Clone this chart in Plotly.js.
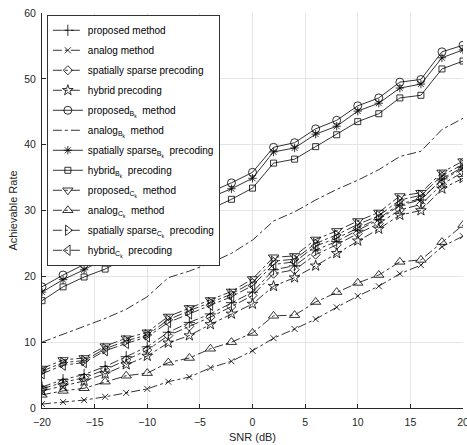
<!DOCTYPE html>
<html>
<head>
<meta charset="utf-8">
<script src="https://cdn.plot.ly/plotly-3.0.1.min.js"></script>
<style>html,body{margin:0;padding:0;background:#fff;}#chart{width:467px;height:445px;}</style>
</head>
<body>
<div id="chart"></div>
<script>
const snr = [-20,-18,-16,-14,-12,-10,-8,-6,-4,-2,0,2,4,6,8,10,12,14,16,18,20];

const proposed      = [3.2,4.3,5.1,6.3,7.8,9.3,11.5,13.0,14.3,16.0,17.6,21.0,21.6,24.0,25.3,27.0,28.6,30.8,31.6,34.8,36.6];
const analog        = [0.6,0.9,1.2,1.7,2.3,2.9,4.0,4.7,6.1,7.1,8.7,10.6,12.0,13.5,15.3,17.0,18.5,20.4,21.7,24.5,26.1];
const sparse        = [2.9,3.9,4.6,5.8,7.3,8.8,11.0,12.4,13.8,15.4,17.1,20.4,21.0,23.3,24.8,26.5,28.0,30.1,30.9,34.0,35.8];
const hybrid        = [2.6,3.4,4.1,5.2,6.6,7.9,9.9,11.0,12.7,14.3,15.8,18.5,19.8,21.6,23.5,25.4,27.2,29.3,30.0,33.3,34.9];
const proposedB     = [18.4,20.2,21.8,23.5,25.3,27.0,28.8,30.5,32.8,34.2,35.8,39.6,40.3,42.4,43.7,45.9,47.1,49.5,49.9,54.1,55.1];
const analogB       = [10.0,11.2,12.3,13.6,15.0,16.9,19.8,20.8,22.0,23.5,25.5,28.4,29.8,31.6,33.2,34.6,36.2,38.2,39.0,42.3,44.0];
const sparseB       = [17.6,19.5,21.0,22.7,24.5,26.2,28.0,29.7,32.0,33.3,34.9,38.9,39.5,41.6,42.8,45.1,46.3,48.6,49.2,53.2,54.4];
const hybridB       = [16.3,18.4,19.9,21.1,22.8,24.5,26.3,28.0,30.2,31.7,33.4,37.2,37.8,39.7,41.5,43.5,44.7,47.1,47.5,51.5,52.7];
const proposedC     = [6.0,7.3,7.6,9.4,10.6,11.5,13.9,15.2,16.4,17.7,19.6,22.9,23.1,25.6,26.9,28.4,29.7,32.2,32.7,35.8,37.5];
const analogC       = [2.0,2.6,3.0,4.0,4.9,5.3,6.9,7.6,9.0,10.0,11.4,14.0,14.1,16.1,17.6,19.0,20.2,22.2,22.5,25.2,27.8];
const sparseC       = [5.6,6.9,7.2,9.0,10.2,11.1,13.4,14.8,16.0,17.3,19.1,22.3,22.6,25.0,26.3,27.9,29.2,31.6,32.3,35.3,37.0];
const hybridC       = [5.2,6.5,6.9,8.7,9.8,10.8,13.0,14.3,15.6,16.9,18.6,21.8,22.2,24.6,25.8,27.3,28.8,31.0,31.8,34.6,36.4];

const names = [
  'proposed method',
  'analog method',
  'spatially sparse precoding',
  'hybrid precoding',
  'proposed<sub>B<sub>k</sub></sub>  method',
  'analog<sub>B<sub>k</sub></sub>  method',
  'spatially sparse<sub>B<sub>k</sub></sub>  precoding',
  'hybrid<sub>B<sub>k</sub></sub>  precoding',
  'proposed<sub>C<sub>k</sub></sub>  method',
  'analog<sub>C<sub>k</sub></sub>  method',
  'spatially sparse<sub>C<sub>k</sub></sub>  precoding',
  'hybrid<sub>C<sub>k</sub></sub>  precoding'
];
const series = [proposed, analog, sparse, hybrid, proposedB, analogB, sparseB, hybridB, proposedC, analogC, sparseC, hybridC];
const symbols = ['cross-thin-open','x-thin-open','diamond-open','star-open','circle-open',null,'asterisk-open','square-open','triangle-down-open','triangle-up-open','triangle-right-open','triangle-left-open'];
const dashes = ['dashdot','dashdot','dashdot','dashdot','solid','dashdot','solid','solid','dashdot','dashdot','dashdot','dashdot'];
const sizes = [8,6,7,8,8,0,7,6,9,9,9,9];

const traces = series.map((ys, i) => {
  const t = {
    x: snr, y: ys, name: names[i], type: 'scatter', legendgroup: 'g' + i,
    mode: symbols[i] ? 'lines+markers' : 'lines',
    line: {color: '#000', width: 0.8, dash: dashes[i]}
  };
  if (symbols[i]) {
    t.marker = {symbol: symbols[i], size: sizes[i], color: '#000', line: {color: '#000', width: 0.8}};
  }
  return t;
});

const layout = {
  width: 467, height: 445,
  margin: {l: 42, r: 4, t: 13, b: 37},
  paper_bgcolor: '#fff', plot_bgcolor: '#fff',
  font: {family: 'Liberation Sans, Arial, sans-serif', size: 10, color: '#262626'},
  showlegend: true,
  legend: {x: 0.012, y: 0.995, xanchor: 'left', yanchor: 'top', bgcolor: '#fff',
           bordercolor: '#000', borderwidth: 0.8, font: {size: 10, color: '#000'},
           traceorder: 'grouped', tracegroupgap: 1, itemwidth: 30},
  xaxis: {range: [-20, 20], tickvals: [-20,-15,-10,-5,0,5,10,15,20], ticks: 'inside', ticklen: 4,
          tickcolor: '#262626', showline: true, linecolor: '#262626', linewidth: 1,
          showgrid: true, gridcolor: '#e5e5e5', gridwidth: 1, zeroline: false, mirror: false,
          ticklabelstandoff: 4, ticklabeloverflow: 'allow',
          title: {text: 'SNR (dB)', font: {size: 11, color: '#262626'}, standoff: 6},
          tickfont: {size: 10.5, color: '#262626'}},
  yaxis: {range: [0, 60], tickvals: [0,10,20,30,40,50,60], ticks: 'inside', ticklen: 4,
          tickcolor: '#262626', showline: true, linecolor: '#262626', linewidth: 1,
          showgrid: true, gridcolor: '#e5e5e5', gridwidth: 1, zeroline: false,
          ticklabelstandoff: 3, ticklabeloverflow: 'allow',
          title: {text: 'Achievable Rate', font: {size: 11, color: '#262626'}, standoff: 4},
          tickfont: {size: 10.5, color: '#262626'}}
};

Plotly.newPlot('chart', traces, layout, {displayModeBar: false, staticPlot: true});
</script>
</body>
</html>
